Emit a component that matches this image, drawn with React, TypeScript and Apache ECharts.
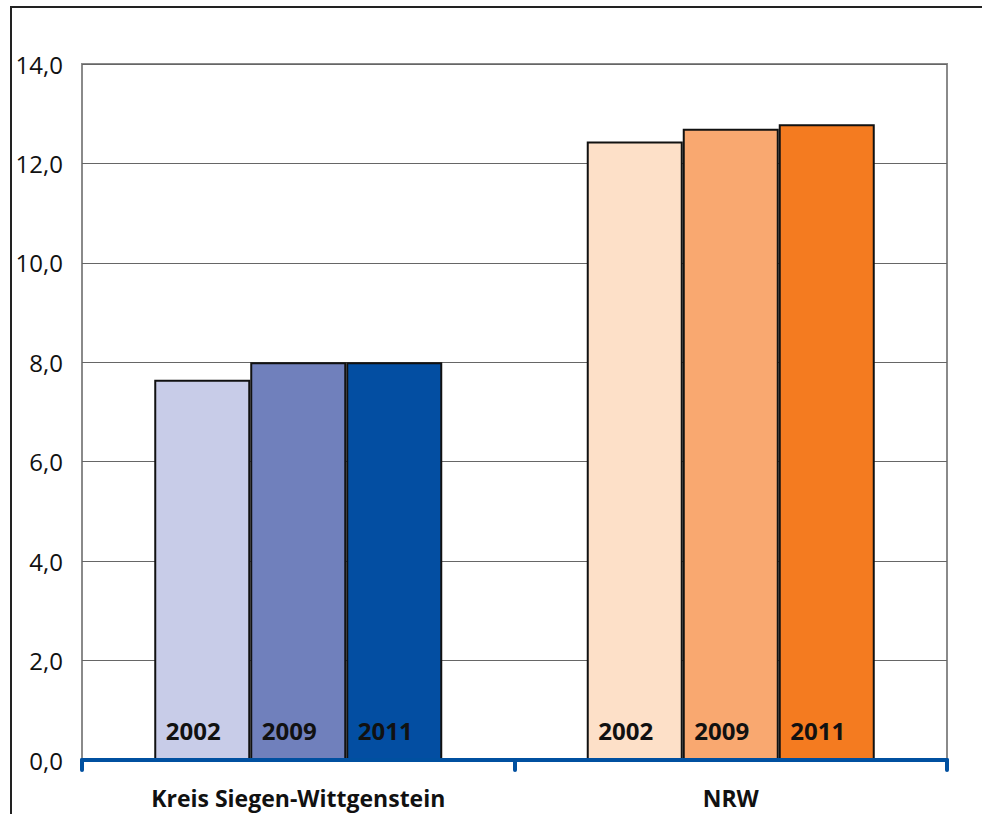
import React, { useEffect, useRef } from "react";
import * as echarts from "echarts";

const categories = ["Kreis Siegen-Wittgenstein", "NRW"];
const years = ["2002", "2009", "2011"];
const values2002 = [7.65, 12.44];
const values2009 = [8.0, 12.7];
const values2011 = [8.0, 12.79];
const yTicks = { min: 0, max: 14, interval: 2 };

const kreisColors = ["#c8cce8", "#7080bc", "#034ea2"];
const nrwColors = ["#fde0c8", "#f9a870", "#f47b20"];

export default function App() {
  const ref = useRef<HTMLDivElement>(null);
  useEffect(() => {
    if (!ref.current) return;
    const chart = echarts.init(ref.current, null, { renderer: "svg" });
    const font = "'Open Sans', 'Noto Sans', sans-serif";
    const seriesValues = [values2002, values2009, values2011];
    chart.setOption({
      animation: false,
      textStyle: { fontFamily: font },
      grid: {
        left: 82,
        right: 35,
        top: 64,
        bottom: 54,
        show: true,
        borderColor: "#8a8a8a",
        borderWidth: 2,
        backgroundColor: "transparent",
      },
      graphic: [
        {
          type: "rect",
          shape: { x: 11, y: 7, width: 1200, height: 1200 },
          style: { fill: "none", stroke: "#222", lineWidth: 2 },
          silent: true,
        },
      ],
      xAxis: {
        type: "category",
        data: categories,
        axisLine: { show: true, lineStyle: { color: "#0050a0", width: 4 } },
        axisTick: {
          show: true,
          alignWithLabel: false,
          length: 10,
          lineStyle: { color: "#0050a0", width: 4, cap: "round" },
        },
        axisLabel: {
          color: "#111",
          fontSize: 23,
          lineHeight: 22,
          fontWeight: "bold",
          fontFamily: font,
          margin: 27,
        },
        splitLine: { show: false },
        z: 5,
      },
      yAxis: {
        type: "value",
        min: yTicks.min,
        max: yTicks.max,
        interval: yTicks.interval,
        axisLine: { show: false },
        axisTick: { show: false },
        axisLabel: {
          color: "#111",
          fontSize: 24,
          fontFamily: font,
          margin: 19,
          formatter: (v: number) => v.toFixed(1).replace(".", ","),
        },
        splitLine: { show: true, lineStyle: { color: "#666", width: 1 } },
      },
      series: years.map((y, i) => ({
        name: y,
        type: "bar",
        barWidth: 96,
        barGap: "0%",
        data: seriesValues[i].map((v, j) => ({
          value: v,
          itemStyle: { color: j === 0 ? kreisColors[i] : nrwColors[i] },
        })),
        itemStyle: { borderColor: "#111", borderWidth: 2 },
        label: {
          show: true,
          position: "insideBottom",
          distance: 18,
          offset: [-9, 0],
          formatter: () => y,
          color: "#111",
          fontSize: 24,
          fontWeight: "bold",
          fontFamily: font,
        },
      })),
    });
    return () => chart.dispose();
  }, []);
  return (
    <div
      ref={ref}
      style={{ position: "fixed", left: 0, top: 0, width: 982, height: 814, background: "#fff" }}
    />
  );
}
